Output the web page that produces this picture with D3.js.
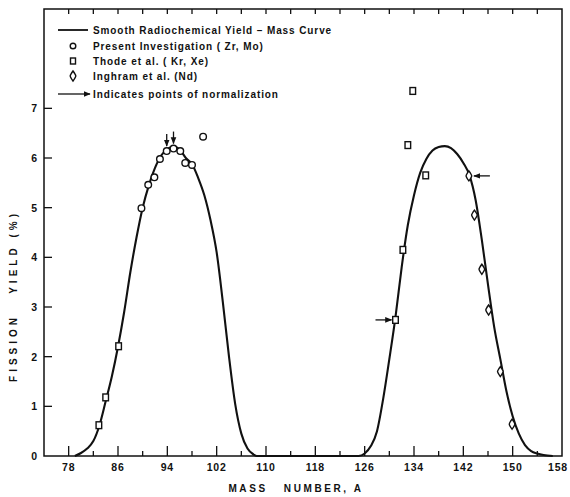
<!DOCTYPE html>
<html>
<head>
<meta charset="utf-8">
<script src="https://cdn.jsdelivr.net/npm/d3@7"></script>
<style>
  html, body { margin: 0; padding: 0; background: #fff; }
  svg text { font-family: "Liberation Sans", Arial, sans-serif; font-weight: bold; fill: #111; }
</style>
</head>
<body>
<div id="chart"></div>
<script>
// ===============================================================
// Data
// ===============================================================
const curve_mass  = [79, 80, 81, 82, 83, 84, 85, 86, 87, 88, 89, 90, 91, 92, 93, 94, 95, 96, 97, 98, 99, 100, 101, 102, 103, 104, 105, 106, 107, 108, 108.5,
                     125, 126, 127, 128, 129, 130, 131, 132, 133, 134, 135, 136, 137, 138, 139, 140, 141, 142, 143, 144, 145, 146, 147, 148, 149, 150, 151, 152, 153, 154, 155, 156.5];
const curve_yield = [0, 0.06, 0.15, 0.3, 0.62, 1.1, 1.6, 2.2, 2.9, 3.7, 4.4, 5.0, 5.45, 5.8, 6.05, 6.18, 6.23, 6.17, 6.0, 5.88, 5.6, 5.25, 4.75, 4.1, 3.1, 2.0, 1.05, 0.45, 0.15, 0.03, 0,
                     0, 0.05, 0.2, 0.5, 1.15, 1.95, 2.8, 3.8, 4.65, 5.25, 5.7, 5.98, 6.15, 6.22, 6.24, 6.2, 6.08, 5.9, 5.65, 5.15, 4.35, 3.45, 2.6, 1.95, 1.3, 0.8, 0.45, 0.22, 0.1, 0.05, 0.02, 0];

const zrmo_mass  = [89.8, 90.9, 91.9, 92.8, 93.9, 95.0, 96.1, 96.9, 98.0, 99.8];
const zrmo_yield = [4.99, 5.46, 5.61, 5.98, 6.14, 6.19, 6.14, 5.90, 5.86, 6.43];

const thode_mass  = [82.9, 84.0, 86.1, 131.0, 132.2, 133.0, 133.8, 135.9];
const thode_yield = [0.62, 1.18, 2.21, 2.74, 4.15, 6.26, 7.35, 5.65];

const inghram_mass  = [142.9, 143.8, 145.0, 146.1, 148.0, 149.9];
const inghram_yield = [5.64, 4.85, 3.76, 2.94, 1.70, 0.64];

// points of normalization: mass, yield, where the arrow comes from
const norm_mass  = [93.9, 95.0, 131.0, 142.9];
const norm_yield = [6.14, 6.19, 2.74, 5.64];
const norm_side  = ['top', 'top', 'left', 'right'];

const x_major = [78, 86, 94, 102, 110, 118, 126, 134, 142, 150, 158];
const x_minor = [82, 90, 98, 106, 114, 122, 130, 138, 146, 154];
const y_ticks = [0, 1, 2, 3, 4, 5, 6, 7];

const legend_labels = [
  'Smooth Radiochemical Yield \u2013 Mass Curve',
  'Present Investigation ( Zr, Mo)',
  'Thode et al. ( Kr, Xe)',
  'Inghram et al. (Nd)',
  'Indicates points of normalization'
];

// ===============================================================
// Setup
// ===============================================================
const width = 570, height = 497;
const margin = {left: 44, right: 8, top: 9, bottom: 41};

const svg = d3.select('#chart').append('svg')
  .attr('width', width)
  .attr('height', height);

const x = d3.scaleLinear().domain([74, 158]).range([margin.left, width - margin.right]);
const y = d3.scaleLinear().domain([0, 9]).range([height - margin.bottom, margin.top]);

svg.append('defs').append('marker')
  .attr('id', 'head')
  .attr('viewBox', '0 0 10 10')
  .attr('refX', 9).attr('refY', 5)
  .attr('markerWidth', 7).attr('markerHeight', 7)
  .attr('markerUnits', 'userSpaceOnUse')
  .attr('orient', 'auto')
  .append('path')
  .attr('d', 'M0,1 L10,5 L0,9 Z')
  .attr('fill', '#111');

// ---- frame
svg.append('rect')
  .attr('x', x(74)).attr('y', y(9))
  .attr('width', x(158) - x(74)).attr('height', y(0) - y(9))
  .attr('fill', 'none').attr('stroke', '#111').attr('stroke-width', 1.5);

// ---- bottom axis: ticks point inward
const x_axis = svg.append('g').attr('transform', `translate(0,${y(0)})`);
x_axis.selectAll('line.major').data(x_major.filter(d => d < 158)).join('line')
  .attr('class', 'major')
  .attr('x1', d => x(d)).attr('x2', d => x(d))
  .attr('y1', 0).attr('y2', -10)
  .attr('stroke', '#111').attr('stroke-width', 1.3);
x_axis.selectAll('line.minor').data(x_minor).join('line')
  .attr('class', 'minor')
  .attr('x1', d => x(d)).attr('x2', d => x(d))
  .attr('y1', 0).attr('y2', -5)
  .attr('stroke', '#111').attr('stroke-width', 1.3);
x_axis.selectAll('text').data(x_major).join('text')
  .attr('x', d => d === 158 ? width - 2 : x(d)).attr('y', 15)
  .attr('text-anchor', d => d === 158 ? 'end' : 'middle')
  .style('font-size', '10.5px')
  .style('letter-spacing', '0.8px')
  .text(d => d);

// ---- top ticks
svg.append('g').selectAll('line').data(x_major.concat(x_minor).filter(d => d < 158)).join('line')
  .attr('x1', d => x(d)).attr('x2', d => x(d))
  .attr('y1', y(9)).attr('y2', y(9) + 5)
  .attr('stroke', '#111').attr('stroke-width', 1.3);

// ---- left axis
const y_axis = svg.append('g').attr('transform', `translate(${x(74)},0)`);
y_axis.selectAll('line').data(y_ticks.filter(d => d > 0)).join('line')
  .attr('x1', 0).attr('x2', 8)
  .attr('y1', d => y(d)).attr('y2', d => y(d))
  .attr('stroke', '#111').attr('stroke-width', 1.3);
y_axis.selectAll('text').data(y_ticks).join('text')
  .attr('x', -7).attr('y', d => y(d) + 4)
  .attr('text-anchor', 'end')
  .style('font-size', '10.5px')
  .text(d => d);

// ---- axis titles
svg.append('text')
  .attr('x', 296).attr('y', 492)
  .attr('text-anchor', 'middle')
  .style('font-size', '10px')
  .style('letter-spacing', '2.6px')
  .style('white-space', 'pre')
  .text('MASS   NUMBER, A');

svg.append('text')
  .attr('transform', 'translate(17,296) rotate(-90)')
  .attr('text-anchor', 'middle')
  .style('font-size', '10px')
  .style('letter-spacing', '4px')
  .style('white-space', 'pre')
  .text('FISSION   YIELD (%)');

// ---- curve
const curve_data = curve_mass.map((m, i) => ({mass: m, yield: curve_yield[i]}));
svg.append('path')
  .datum(curve_data)
  .attr('fill', 'none')
  .attr('stroke', '#111')
  .attr('stroke-width', 2.1)
  .attr('d', d3.line().x(d => x(d.mass)).y(d => y(d.yield)).curve(d3.curveMonotoneX));

// ---- markers
const diamond = 'M0,-5 C1.8,-2.5 2.8,-1 2.8,0 C2.8,1 1.8,2.5 0,5 C-1.8,2.5 -2.8,1 -2.8,0 C-2.8,-1 -1.8,-2.5 0,-5 Z';

function draw_circles(g, mass, yld) {
  g.selectAll('circle').data(mass.map((m, i) => [m, yld[i]])).join('circle')
    .attr('cx', d => x(d[0])).attr('cy', d => y(d[1]))
    .attr('r', 3.3)
    .attr('fill', '#fff').attr('stroke', '#111').attr('stroke-width', 1.4);
}
function draw_squares(g, mass, yld) {
  g.selectAll('rect').data(mass.map((m, i) => [m, yld[i]])).join('rect')
    .attr('x', d => x(d[0]) - 2.8).attr('y', d => y(d[1]) - 3.4)
    .attr('width', 5.6).attr('height', 6.8)
    .attr('fill', '#fff').attr('stroke', '#111').attr('stroke-width', 1.4);
}
function draw_diamonds(g, mass, yld) {
  g.selectAll('path').data(mass.map((m, i) => [m, yld[i]])).join('path')
    .attr('transform', d => `translate(${x(d[0])},${y(d[1])})`)
    .attr('d', diamond)
    .attr('fill', '#fff').attr('stroke', '#111').attr('stroke-width', 1.4);
}

draw_circles(svg.append('g'), zrmo_mass, zrmo_yield);
draw_squares(svg.append('g'), thode_mass, thode_yield);
draw_diamonds(svg.append('g'), inghram_mass, inghram_yield);

// ---- normalization arrows
norm_mass.forEach((m, i) => {
  const px = x(m), py = y(norm_yield[i]);
  let a;
  if (norm_side[i] === 'top') a = [px, py - 17, px, py - 5];
  else if (norm_side[i] === 'left') a = [px - 20, py, px - 4, py];
  else a = [px + 21, py, px + 5, py];
  svg.append('line')
    .attr('x1', a[0]).attr('y1', a[1]).attr('x2', a[2]).attr('y2', a[3])
    .attr('stroke', '#111').attr('stroke-width', 1.3)
    .attr('marker-end', 'url(#head)');
});

// ---- legend
const legend = svg.append('g');
const row_y = [30, 46, 61, 76, 94];
legend.selectAll('text').data(legend_labels).join('text')
  .attr('x', 93).attr('y', (d, i) => row_y[i] + 3.5)
  .style('font-size', '10px')
  .style('letter-spacing', '0.9px')
  .text(d => d);

legend.append('line')
  .attr('x1', 58).attr('x2', 88).attr('y1', row_y[0]).attr('y2', row_y[0])
  .attr('stroke', '#111').attr('stroke-width', 1.8);
legend.append('circle')
  .attr('cx', 73).attr('cy', row_y[1]).attr('r', 2.8)
  .attr('fill', '#fff').attr('stroke', '#111').attr('stroke-width', 1.4);
legend.append('rect')
  .attr('x', 70.5).attr('y', row_y[2] - 3).attr('width', 5).attr('height', 6)
  .attr('fill', '#fff').attr('stroke', '#111').attr('stroke-width', 1.4);
legend.append('path')
  .attr('transform', `translate(73,${row_y[3]})`)
  .attr('d', diamond)
  .attr('fill', '#fff').attr('stroke', '#111').attr('stroke-width', 1.4);
legend.append('line')
  .attr('x1', 58).attr('x2', 90).attr('y1', row_y[4]).attr('y2', row_y[4])
  .attr('stroke', '#111').attr('stroke-width', 1.3)
  .attr('marker-end', 'url(#head)');
</script>
</body>
</html>
